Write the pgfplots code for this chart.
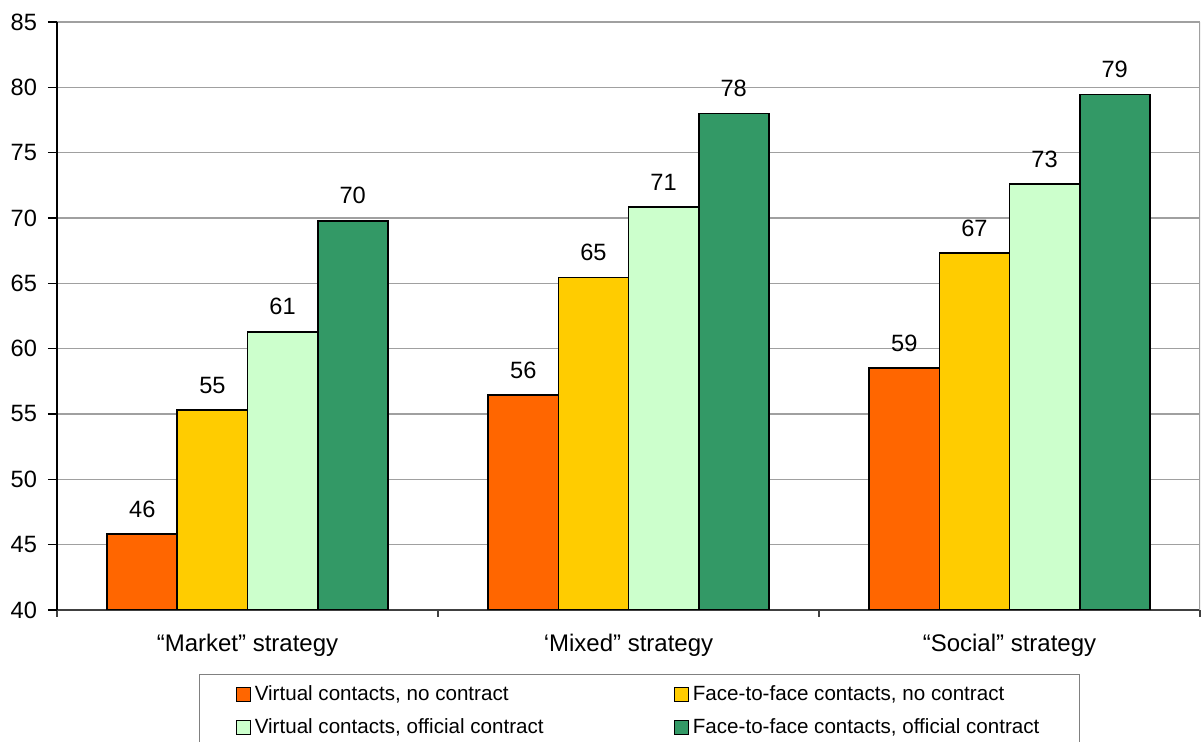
\documentclass[border=0pt]{standalone}
\usepackage{pgfplots}
\pgfplotsset{compat=1.18}
\usepackage{fontspec}
\setmainfont{Liberation Sans}
\definecolor{cOr}{HTML}{FF6600}
\definecolor{cYe}{HTML}{FFCC00}
\definecolor{cLg}{HTML}{CCFFCC}
\definecolor{cDg}{HTML}{339966}
\definecolor{cGrid}{HTML}{A0A0A0}
\begin{document}
\begin{tikzpicture}
\begin{axis}[
  scale only axis, width=571.5pt, height=294pt,
  ybar=0pt, bar width=0.184,
  xmin=-0.5, xmax=2.5, ymin=40, ymax=85,
  ytick={40,45,...,85},
  xtick={0,1,2},
  xticklabels={“Market” strategy, ‘Mixed” strategy, “Social” strategy},
  minor xtick={-0.5,0.5,1.5,2.5},
  major x tick style={draw=none},
  minor x tick style={draw=black!75, line width=0.6pt},
  minor tick length=3.5pt,
  major tick length=4.5pt,
  tick align=outside,
  y tick style={draw=black, line width=0.6pt},
  axis x line*=bottom, axis y line*=left,
  x axis line style={draw=black!75, line width=0.8pt, -},
  y axis line style={draw=black, line width=0.7pt, -},
  ymajorgrids, grid style={cGrid, line width=0.6pt},
  /pgf/number format/assume math mode=true,
  yticklabel style={font=\fontsize{11.8}{13}\selectfont, xshift=-2pt},
  xticklabel style={font=\fontsize{12}{14}\selectfont, yshift=-4pt},
  nodes near coords, point meta=explicit symbolic,
  every node near coord/.append style={font=\fontsize{11.8}{13}\selectfont, yshift=4.5pt, black},
  every axis plot/.append style={draw=black, line width=0.9pt},
  legend columns=2,
  legend cell align=left,
  legend style={at={(0.1242,-0.1088)}, anchor=north west, draw=black!50, line width=0.6pt,
    font=\fontsize{10.3}{12}\selectfont, inner xsep=18pt, inner ysep=3.5pt,
    row sep=3.5pt,
    /tikz/every even column/.append style={column sep=63pt}},
  legend image code/.code={\draw[#1, line width=0.6pt] (0pt,-3.5pt) rectangle (7pt,3.5pt);},
]
\addplot[fill=cOr] coordinates {(0,45.8)[46] (1,56.45)[56] (2,58.5)[59]};
\addplot[fill=cYe] coordinates {(0,55.3)[55] (1,65.45)[65] (2,67.3)[67]};
\addplot[fill=cLg] coordinates {(0,61.3)[61] (1,70.85)[71] (2,72.6)[73]};
\addplot[fill=cDg] coordinates {(0,69.8)[70] (1,78.0)[78] (2,79.45)[79]};
\legend{{Virtual contacts, no contract}, {Face-to-face contacts, no contract}, {Virtual contacts, official contract}, {Face-to-face contacts, official contract}}
\draw[cGrid, line width=0.6pt] (rel axis cs:1,0) -- ([yshift=-3.5pt]rel axis cs:1,0) (rel axis cs:1,0) -- (rel axis cs:1,1);
\end{axis}
\pgfresetboundingbox
\useasboundingbox (-28.5pt,-66pt) rectangle (572.5pt,305pt);
\end{tikzpicture}
\end{document}
